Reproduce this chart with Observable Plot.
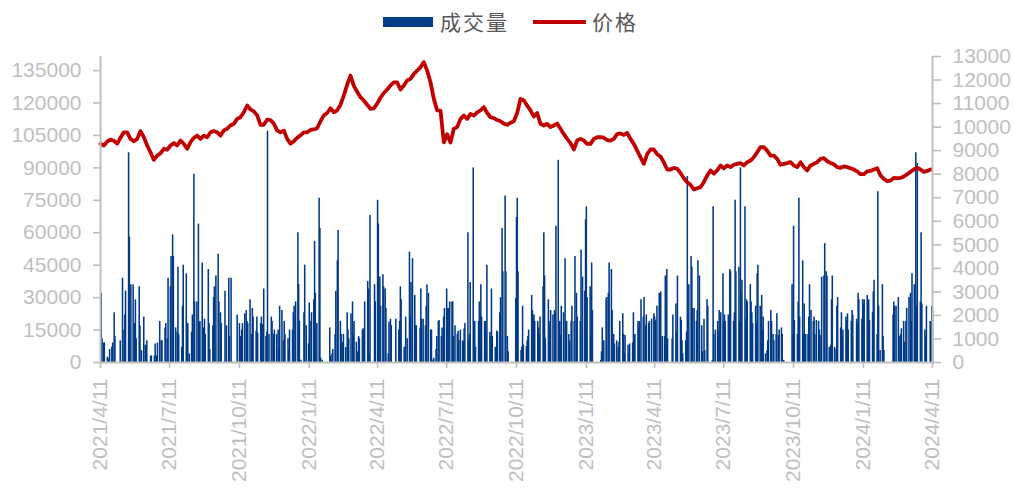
<!DOCTYPE html>
<html><head><meta charset="utf-8">
<script src="https://cdn.jsdelivr.net/npm/d3@7"></script>
<script src="https://cdn.jsdelivr.net/npm/@observablehq/plot@0.6"></script>
<style>
body{margin:0;background:#fff;}
#legend{position:relative;height:44px;width:1014px;font-family:"Noto Sans CJK SC",sans-serif;color:#595959;font-size:21px;}
#legend .sw{position:absolute;}
#legend .lb{position:absolute;top:7px;line-height:28px;letter-spacing:2px;}
</style></head><body>
<div id="legend">
  <div class="sw" style="left:383px;top:17px;width:50px;height:10px;background:#023d88"></div>
  <div class="lb" style="left:440px">成交量</div>
  <div class="sw" style="left:533px;top:20px;width:53px;height:4px;background:#c00000"></div>
  <div class="lb" style="left:592px">价格</div>
</div>
<div id="chart"></div>
<script>
// tick labels / quarter boundaries
const tickDates = ["2021-04-11","2021-07-11","2021-10-11","2022-01-11","2022-04-11","2022-07-11","2022-10-11","2023-01-11","2023-04-11","2023-07-11","2023-10-11","2024-01-11","2024-04-11"];
const leftTicks = [0,15000,30000,45000,60000,75000,90000,105000,120000,135000];
const rightTicks = [0,1000,2000,3000,4000,5000,6000,7000,8000,9000,10000,11000,12000,13000];
// exchange closures (weekdays)
const holidays = ["2021-05-03","2021-05-04","2021-05-05","2021-06-14","2021-09-20","2021-09-21","2021-10-01","2021-10-04","2021-10-05","2021-10-06","2021-10-07",
"2022-01-03","2022-01-31","2022-02-01","2022-02-02","2022-02-03","2022-02-04","2022-04-04","2022-04-05","2022-05-02","2022-05-03","2022-05-04","2022-06-03","2022-09-12","2022-10-03","2022-10-04","2022-10-05","2022-10-06","2022-10-07",
"2023-01-02","2023-01-23","2023-01-24","2023-01-25","2023-01-26","2023-01-27","2023-04-05","2023-05-01","2023-05-02","2023-05-03","2023-06-22","2023-06-23","2023-09-29","2023-10-02","2023-10-03","2023-10-04","2023-10-05","2023-10-06",
"2024-01-01","2024-02-09","2024-02-12","2024-02-13","2024-02-14","2024-02-15","2024-02-16","2024-04-04","2024-04-05"];

// 成交量 (thousands), one array per quarter between ticks
const vol_2104 = [32,11,9,9,2.5,1.7,6,7,9,23,12,10,39,15,22,33,97,58,36,36,18,29,11,35,17,5.5,21,8,7,10,3,3,3,8.6,3,9,19,10,10,16,18,11,39];
const vol_2107 = [35,49,59,49,16,14,44,13,7,26,45,41,7,18,4,14,22,87,28,28,64,18,19,46,16,20,13,43,18,6,17,30,35,40,50,28,23,18,33,17,39,12,39,22];
const vol_2110 = [18,12,15,18,22.5,24,19,18,29,13,25,21,14.5,21,13.6,18,21,17.6,34,12,14,107,13,21,19,13,15,13,15,6,26,24,10,19,13,11,6,15,15,23,26,28,60,36,19,1,23,45,17,8.6];
const vol_2201 = [27.5,19,23,29,56,32,18,76,62,2,1,16,3,4,6,13,33,47,61,19,13,9.4,13,7,23,15,11,22.5,28,12.5,19,9.4,5,12,11,15,15.6,12,28,37.5,34,4,68,36,28];
const vol_2204 = [75,64,39.5,26,40.6,35,34,25,4,18.7,20,17,20,15,19,35,29,7,1,21,11,51,21,37,48,31,17,17,16,34,20,20,17,26,36,32,15,15,1,2,6,12,19,19.4,12,16,21,25];
const vol_2207 = [34,25,25,28,28,28,12,17,13,14.5,10,15,10,9.4,15.6,18,60,10,13,37,90,8,19,7,19,28,23,36,21,19,19,13,45,14,12,34,12,7,14.5,14,23,30,62,42,77,42,12,5,29.5];
const vol_2210 = [67,76,42,5.5,7,26,8,7.4,10,12,15,31,24,20,22,19,19,16,13,21,35,60,40,11,29,19,15,24,22,24,22.5,63,93.5,19,12.5,26,23,48,19,19,13,10,19,26,19,49,32,21,19,52,39.5,33,66];
const vol_2301 = [72,30,35,12,46,24,1,5,16,10,29.5,30,32,46,43,24,13,8.6,10,7,9.4,19,22.5,13,4,12.5,8,4,8.6,9,23,12,13,19,15.6,19,29,21,30,17,22,18,19,20,22.5];
const vol_2304 = [21,19.4,26,32,30,32.6,12,12,40,43,11,11,22,27,14,40,21,19.4,10,4,10,14,86,36,49,44,25,25,19,24,47,40,17,5,20,5.5,29,26,1,72,13,15,19,14,24,23,41];
const vol_2307 = [19,22,19,22,20.5,43,42,19,23,75,42,44,19,90,32,38,72,20,29,28,36,28,23,18,26,18,41,45,26,31,15,21,4,5.5,10,19,24,19,13,10,13,22.5,12.5,15,16,13,1,36,13];
const vol_2310 = [63,19.4,13,28,76,21,47,13,27,13,13,21,36,24,19,21,13,19.4,19,15,12.5,39.5,40,55,42,40,7,8,29,40,7,6,26,30,16,23,12,15,21,19.4,22.5,15,19,24,22,20,18,32,29,20,29];
const vol_2401 = [27,29,31,16,29,19.4,23,32.6,38,13,79,26,5.5,36,12,5.5,22,28,26,26,30,12,13,15.6,19,9.4,19,25,30,32,19,41,36,97,26,92,28,60,27,15,12,26,19,26,25];

// 价格 (thousands), sampled every ~4.39 days from 2021/4/11
const price_a = [9.29,9.22,9.38,9.47,9.42,9.3,9.55,9.78,9.78,9.5,9.4,9.5,9.83,9.57,9.22,8.93,8.61,8.79,8.89,9.08,9.04,9.22,9.32,9.22,9.43,9.29,9.08,9.36,9.54,9.64,9.5,9.64,9.57,9.78,9.83,9.78,9.64,9.86,9.93,10.07,10.14,10.35,10.42,10.63,10.92,10.75,10.67,10.5,10.1,10.1,10.32,10.3,10.15,9.85,9.78,9.85,9.5,9.3,9.4,9.55,9.65,9.78];
const price_b = [9.78,9.88,9.9,9.95,10.25,10.5,10.6,10.8,10.63,10.71,10.95,11.35,11.8,12.19,11.75,11.5,11.27,11.13,10.95,10.78,10.8,11.0,11.25,11.45,11.6,11.77,11.9,11.9,11.6,11.77,11.98,12.05,12.26,12.4,12.54,12.76,12.4,11.91,11.2,10.71,10.7,9.35,9.7,9.35,9.93,10.0,10.35,10.49,10.35,10.56,10.49,10.63,10.71,10.85,10.6,10.42,10.38,10.3,10.25,10.15,10.1,10.18];
const price_c = [10.25,10.6,11.2,11.13,10.92,10.71,10.45,10.6,10.14,10.07,10.14,10.0,10.07,10.15,9.93,9.7,9.5,9.32,9.05,9.43,9.5,9.43,9.29,9.29,9.5,9.57,9.57,9.55,9.45,9.43,9.5,9.7,9.73,9.67,9.75,9.5,9.29,9.0,8.72,8.44,8.85,9.05,9.05,8.85,8.75,8.5,8.2,8.2,8.27,8.23,8.05,7.83,7.66,7.55,7.35,7.4,7.45,7.66,7.94,8.16,8.02,8.16,8.37];
const price_d = [8.25,8.37,8.3,8.4,8.44,8.47,8.37,8.51,8.58,8.72,8.93,9.15,9.15,9.0,8.79,8.79,8.65,8.4,8.44,8.47,8.51,8.37,8.3,8.51,8.3,8.16,8.37,8.44,8.51,8.65,8.68,8.55,8.48,8.42,8.3,8.27,8.33,8.3,8.25,8.2,8.12,8.0,8.0,8.12,8.14,8.2,8.25,7.95,7.8,7.7,7.73,7.84,7.83,7.84,7.9,8.0,8.1,8.2,8.28,8.2,8.1,8.14,8.2];

const DAY = 864e5;
const parse = s => new Date(s + "T00:00:00Z");
const bounds = tickDates.map(parse);
const start = bounds[0], end = bounds[bounds.length - 1];
const holiSet = new Set(holidays);
const tradingDays = [];
for (let t = +start + DAY; t <= +end; t += DAY) {
  const d = new Date(t), wd = d.getUTCDay();
  if (wd === 0 || wd === 6) continue;
  if (holiSet.has(d.toISOString().slice(0, 10))) continue;
  tradingDays.push(d);
}
const volSegs = [vol_2104, vol_2107, vol_2110, vol_2201, vol_2204, vol_2207, vol_2210, vol_2301, vol_2304, vol_2307, vol_2310, vol_2401];
const volData = [];
volSegs.forEach((vals, i) => {
  const lo = bounds[i], hi = i === volSegs.length - 1 ? new Date(+end + DAY) : bounds[i + 1];
  const days = tradingDays.filter(d => d >= lo && d < hi);
  vals.forEach((v, j) => {
    const idx = Math.round(j * (days.length - 1) / (vals.length - 1));
    volData.push({date: days[idx], v: v * 1000});
  });
});
const priceVals = [...price_a, ...price_b, ...price_c, ...price_d];
const stepDays = 4.391;
const priceData = priceVals.map((p, i) => ({date: new Date(+start + i * stepDays * DAY), p: p * 1000}));

// left axis value at the top of the frame (right axis top = 13000)
const leftTop = 141500;
const k = 13000 / leftTop;
const grey = "#bfbfbf";
const fmtDate = d => `${d.getUTCFullYear()}/${d.getUTCMonth() + 1}/${d.getUTCDate()}`;

const chart = Plot.plot({
  width: 1014, height: 449,
  marginLeft: 100, marginRight: 82, marginTop: 12, marginBottom: 131,
  x: {type: "utc", domain: [start, end]},
  y: {domain: [0, 13000]},
  style: {fontFamily: "'Liberation Sans', Arial, sans-serif", background: "#fff", overflow: "visible"},
  marks: [
    Plot.ruleX(volData, {x: "date", y1: 0, y2: d => d.v * k, stroke: "#003a86", strokeWidth: 1.55}),
    Plot.line(priceData, {x: "date", y: "p", stroke: "#c00000", strokeWidth: 3.8, strokeLinejoin: "round"}),
    Plot.ruleX([start], {stroke: grey, strokeWidth: 2}),
    Plot.ruleX([end], {stroke: grey, strokeWidth: 2}),
    Plot.ruleY([0], {stroke: grey, strokeWidth: 2}),
    Plot.axisY({anchor: "left", ticks: leftTicks.map(t => t * k), tickFormat: d => String(Math.round(d / k)), tickSize: 7, tickPadding: 12, fontSize: 21, color: grey, strokeWidth: 1.6, label: null}),
    Plot.axisY({anchor: "right", ticks: rightTicks, tickFormat: d => String(d), tickSize: 8, tickPadding: 12, fontSize: 21, color: grey, strokeWidth: 1.6, label: null}),
    Plot.axisX({ticks: bounds, tickFormat: fmtDate, tickRotate: -90, tickSize: 6, tickPadding: 10, fontSize: 21, color: grey, strokeWidth: 1.6, label: null})
  ]
});
document.getElementById("chart").appendChild(chart);
</script>
</body></html>
